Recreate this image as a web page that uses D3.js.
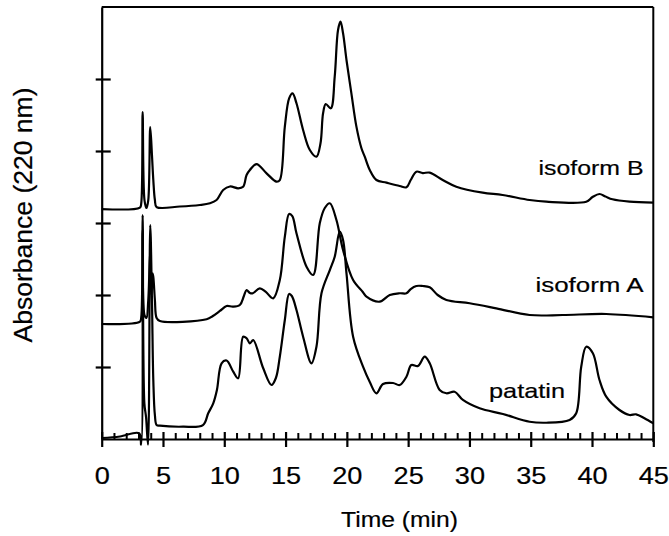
<!DOCTYPE html>
<html>
<head>
<meta charset="utf-8">
<script src="https://cdn.jsdelivr.net/npm/d3@7"></script>
<style>
  html, body { margin: 0; padding: 0; background: #fff; }
  svg { display: block; }
  text { font-family: "Liberation Sans", Arial, Helvetica, sans-serif; fill: #000; stroke: #000; stroke-width: 0.2px; }
</style>
</head>
<body>
<svg id="chart" width="669" height="536"></svg>
<script>
// Elution time (min) and absorbance (arbitrary units, traces offset vertically)
const patatin = [
  [0, 0.014], [1.49, 0.035], [3.05, 0.08], [3.22, -0.08], [3.34, 3.11], [3.48, 0.5],
  [3.62, 0.3], [3.78, -0.08], [3.96, 2.97], [4.10, 1.93], [4.21, 0.82], [4.34, 0.33],
  [4.48, 0.194], [4.75, 0.185], [6.63, 0.171], [8.26, 0.194], [8.69, 0.357], [9.10, 0.496],
  [9.40, 0.681], [9.78, 1.051], [10.19, 1.09], [10.73, 0.935], [11.13, 0.843], [11.54, 1.421],
  [11.82, 1.399], [12.09, 1.329], [12.36, 1.375], [13.17, 0.986], [13.85, 0.75], [14.21, 0.847],
  [14.53, 1.143], [14.94, 1.653], [15.29, 2.014], [15.51, 1.986], [15.89, 1.792], [16.43, 1.421],
  [17.11, 1.051], [17.52, 1.282], [17.93, 2.024], [18.61, 2.347], [19.01, 2.532], [19.42, 2.879],
  [19.69, 2.764], [19.97, 2.301], [20.51, 1.421], [21.32, 1.004], [21.87, 0.792], [22.41, 0.635],
  [22.95, 0.764], [23.77, 0.778], [24.31, 0.75], [24.86, 0.865], [25.26, 1.028], [25.80, 1.014],
  [26.35, 1.143], [26.76, 1.051], [27.57, 0.681], [28.12, 0.635], [28.79, 0.657], [29.47, 0.542],
  [30.83, 0.426], [32.73, 0.347], [34.91, 0.24], [36.27, 0.226], [38.17, 0.264], [38.71, 0.357],
  [39.12, 1.004], [39.53, 1.282], [40.07, 1.19], [40.61, 0.819], [41.16, 0.588], [42.24, 0.403],
  [43.06, 0.333], [43.60, 0.343], [44.28, 0.288], [45, 0.218]
];

const isoformA = [
  [0, 1.597], [3.12, 1.629], [3.22, 1.681], [3.34, 2.903], [3.49, 1.722], [3.65, 1.681],
  [3.80, 1.931], [3.96, 2.625], [4.06, 2.0], [4.15, 2.3], [4.21, 2.25], [4.34, 1.931],
  [4.48, 1.681], [4.75, 1.639], [8.56, 1.663], [9.07, 1.708], [9.64, 1.778], [10.19, 1.847],
  [10.70, 1.838], [11.27, 1.861], [11.60, 1.986], [11.82, 2.069], [12.09, 2.028], [12.33, 2.024],
  [12.90, 2.093], [13.39, 2.042], [13.99, 1.954], [14.53, 2.208], [14.94, 2.81], [15.29, 3.125],
  [15.55, 3.097], [15.89, 2.857], [16.71, 2.393], [17.25, 2.278], [17.79, 2.996], [18.20, 3.208],
  [18.61, 3.274], [19.15, 3.042], [19.69, 2.625], [20.51, 2.208], [21.30, 2.042], [21.60, 1.976],
  [22.68, 1.907], [23.50, 2.0], [24.31, 2.024], [24.86, 2.024], [25.21, 2.083], [25.67, 2.125],
  [26.19, 2.125], [26.76, 2.107], [27.41, 2.0], [28.12, 1.931], [30.02, 1.885], [32.19, 1.815],
  [34.91, 1.722], [37.60, 1.722], [41.16, 1.736], [45, 1.69]
];

const isoformB = [
  [0, 3.194], [3.12, 3.215], [3.22, 3.264], [3.34, 4.542], [3.49, 3.319], [3.65, 3.208],
  [3.80, 3.319], [3.96, 4.333], [4.10, 3.944], [4.21, 3.597], [4.34, 3.319], [4.48, 3.222],
  [6.38, 3.229], [8.01, 3.25], [8.83, 3.274], [9.37, 3.319], [9.91, 3.458], [10.46, 3.507],
  [11.13, 3.482], [11.54, 3.504], [11.82, 3.667], [12.09, 3.736], [12.63, 3.819], [13.45, 3.69],
  [14.26, 3.574], [14.53, 3.597], [14.94, 4.338], [15.29, 4.732], [15.57, 4.801], [15.89, 4.663],
  [16.43, 4.292], [16.98, 4.014], [17.52, 3.921], [17.85, 4.107], [18.06, 4.524], [18.28, 4.653],
  [18.69, 4.593], [19.01, 5.032], [19.28, 5.681], [19.48, 5.796], [19.69, 5.635], [19.97, 5.264],
  [20.37, 4.801], [20.78, 4.338], [21.19, 4.038], [21.46, 3.921], [21.87, 3.736], [22.41, 3.597],
  [23.23, 3.56], [24.31, 3.514], [24.86, 3.496], [25.21, 3.597], [25.67, 3.713], [26.19, 3.694],
  [26.76, 3.699], [27.82, 3.597], [28.93, 3.504], [31.08, 3.421], [32.71, 3.389], [34.91, 3.319],
  [36.27, 3.296], [39.53, 3.296], [40.04, 3.361], [40.61, 3.403], [41.10, 3.368], [41.67, 3.329],
  [43.06, 3.296], [45, 3.282]
];

const xMajorTicks = [0, 5, 10, 15, 20, 25, 30, 35, 40, 45];
const xMinorTicks = d3.range(0, 46).filter(v => v % 5 !== 0);
const yTicks = [1, 2, 3, 4, 5];

const traceLabels = [
  { text: "isoform B", t: 44.2, a: 3.66, len: 105 },
  { text: "isoform A", t: 44.2, a: 2.04, len: 108 },
  { text: "patatin",   t: 37.8, a: 0.565, len: 76 }
];

const svg = d3.select("#chart");

const x = d3.scaleLinear().domain([0, 45]).range([101.7, 653.3]);
const y = d3.scaleLinear().domain([0, 6]).range([439, 7]);

const ink = "#000";

// Frame: top and right borders
svg.append("line")
  .attr("x1", x(0)).attr("x2", x(45)).attr("y1", y(6)).attr("y2", y(6))
  .attr("stroke", ink).attr("stroke-width", 2);
svg.append("line")
  .attr("x1", x(45)).attr("x2", x(45)).attr("y1", y(6)).attr("y2", y(0) + 3)
  .attr("stroke", ink).attr("stroke-width", 2);

// Minor x ticks (inward only)
const xMinor = svg.append("g")
  .attr("transform", `translate(0,${y(0)})`)
  .call(d3.axisBottom(x).tickValues(xMinorTicks).tickSize(-6).tickFormat(""));
xMinor.select(".domain").remove();
xMinor.selectAll(".tick line").attr("stroke", ink).attr("stroke-width", 2);

// Major x ticks crossing the axis, with labels
const xAxis = svg.append("g")
  .attr("transform", `translate(0,${y(0)})`)
  .call(d3.axisBottom(x).tickValues(xMajorTicks).tickSizeOuter(0).tickFormat(d3.format("d")));
xAxis.select(".domain").attr("stroke", ink).attr("stroke-width", 2.2);
xAxis.selectAll(".tick line")
  .attr("y1", -7).attr("y2", 8).attr("stroke", ink).attr("stroke-width", 2.2);
xAxis.selectAll(".tick text")
  .attr("y", 45.3).attr("dy", 0)
  .attr("transform", "scale(1.18,1)")
  .style("font-size", "23px")
  .attr("fill", ink);

// Left axis with crossing ticks, no labels
const yAxis = svg.append("g")
  .attr("transform", `translate(${x(0)},0)`)
  .call(d3.axisLeft(y).tickValues(yTicks).tickSizeOuter(0).tickFormat(""));
yAxis.select(".domain").attr("stroke", ink).attr("stroke-width", 2.2);
yAxis.selectAll(".tick line")
  .attr("x1", -6).attr("x2", 9).attr("stroke", ink).attr("stroke-width", 2.2);

// Chromatogram traces
const line = d3.line()
  .x(d => x(d[0]))
  .y(d => y(d[1]))
  .curve(d3.curveCatmullRom.alpha(0.5));

[patatin, isoformA, isoformB].forEach(series => {
  svg.append("path")
    .datum(series)
    .attr("d", line)
    .attr("fill", "none")
    .attr("stroke", ink)
    .attr("stroke-width", 2.2)
    .attr("stroke-linejoin", "round");
});

// Trace labels
traceLabels.forEach(l => {
  svg.append("text")
    .attr("x", x(l.t)).attr("y", y(l.a))
    .attr("text-anchor", "end")
    .attr("textLength", l.len)
    .attr("lengthAdjust", "spacingAndGlyphs")
    .style("font-size", "21px")
    .text(l.text);
});

// Axis titles
svg.append("text")
  .attr("x", 399.5).attr("y", 527)
  .attr("text-anchor", "middle")
  .attr("textLength", 117)
  .attr("lengthAdjust", "spacingAndGlyphs")
  .style("font-size", "22.5px")
  .text("Time (min)");

svg.append("text")
  .attr("transform", "translate(32,215) rotate(-90)")
  .attr("text-anchor", "middle")
  .attr("textLength", 255)
  .attr("lengthAdjust", "spacingAndGlyphs")
  .style("font-size", "25px")
  .text("Absorbance (220 nm)");
</script>
</body>
</html>
